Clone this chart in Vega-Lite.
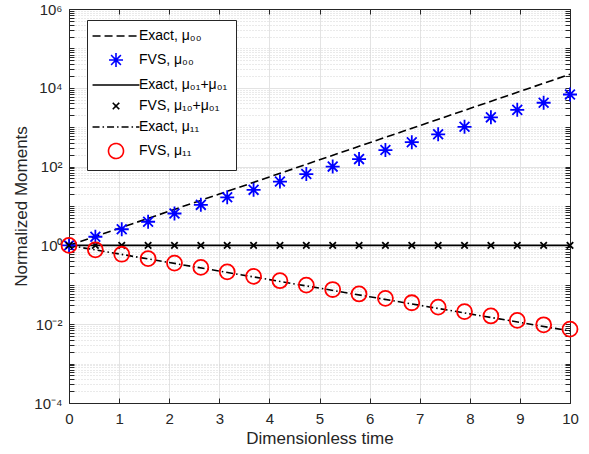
{
  "$schema": "https://vega.github.io/schema/vega-lite/v6.json",
  "width": 501,
  "height": 394,
  "autosize": {"type": "none"},
  "padding": {"left": 69, "top": 9, "right": 19, "bottom": 51},
  "background": "white",
  "config": {
    "font": "Liberation Sans",
    "view": {"stroke": "#262626", "strokeWidth": 1},
    "axis": {"labelFont": "Liberation Sans", "titleFont": "Liberation Sans", "labelColor": "#262626", "titleColor": "#262626", "titleFontWeight": "normal", "domainColor": "#262626", "tickColor": "#262626", "labelFontSize": 15, "titleFontSize": 17},
    "legend": {"labelFont": "Liberation Sans", "labelFontSize": 14, "labelColor": "#000000"}
  },
  "layer": [
    {
      "data": {"values": [
        {"t": 0, "v": 1, "series": "Exact, μ₀₀"},
        {"t": 1, "v": 2.718, "series": "Exact, μ₀₀"},
        {"t": 2, "v": 7.389, "series": "Exact, μ₀₀"},
        {"t": 3, "v": 20.09, "series": "Exact, μ₀₀"},
        {"t": 4, "v": 54.6, "series": "Exact, μ₀₀"},
        {"t": 5, "v": 148.4, "series": "Exact, μ₀₀"},
        {"t": 6, "v": 403.4, "series": "Exact, μ₀₀"},
        {"t": 7, "v": 1096.6, "series": "Exact, μ₀₀"},
        {"t": 8, "v": 2981, "series": "Exact, μ₀₀"},
        {"t": 9, "v": 8103, "series": "Exact, μ₀₀"},
        {"t": 10, "v": 22026, "series": "Exact, μ₀₀"},
        {"t": 0, "v": 1, "series": "Exact, μ₀₁+μ₀₁"},
        {"t": 10, "v": 1, "series": "Exact, μ₀₁+μ₀₁"},
        {"t": 0, "v": 1, "series": "Exact, μ₁₁"},
        {"t": 1, "v": 0.6065, "series": "Exact, μ₁₁"},
        {"t": 2, "v": 0.3679, "series": "Exact, μ₁₁"},
        {"t": 3, "v": 0.2231, "series": "Exact, μ₁₁"},
        {"t": 4, "v": 0.1353, "series": "Exact, μ₁₁"},
        {"t": 5, "v": 0.0821, "series": "Exact, μ₁₁"},
        {"t": 6, "v": 0.0498, "series": "Exact, μ₁₁"},
        {"t": 7, "v": 0.0302, "series": "Exact, μ₁₁"},
        {"t": 8, "v": 0.0183, "series": "Exact, μ₁₁"},
        {"t": 9, "v": 0.0111, "series": "Exact, μ₁₁"},
        {"t": 10, "v": 0.00674, "series": "Exact, μ₁₁"}
      ]},
      "mark": {"type": "line", "strokeWidth": 1.6, "clip": true},
      "encoding": {
        "x": {"field": "t", "type": "quantitative", "scale": {"domain": [0, 10], "nice": false},
          "axis": {"orient": "bottom", "values": [0,1,2,3,4,5,6,7,8,9,10], "labelFlush": false, "title": "Dimensionless time", "grid": true, "gridColor": "#e3e3e3", "gridWidth": 1, "tickSize": -5, "labelPadding": 13, "titlePadding": 4, "domain": true}},
        "y": {"field": "v", "type": "quantitative", "scale": {"type": "log", "domain": [0.0001, 1000000], "nice": false},
          "axis": {"orient": "left", "title": "Normalized Moments", "titlePadding": 3, "labelPadding": 12, "labelFlush": false,
            "values": [0.0001,0.0002,0.0003,0.0004,0.0005,0.0006,0.0007,0.0008,0.0009,0.001,0.002,0.003,0.004,0.005,0.006,0.007,0.008,0.009,0.01,0.02,0.03,0.04,0.05,0.06,0.07,0.08,0.09,0.1,0.2,0.3,0.4,0.5,0.6,0.7,0.8,0.9,1,2,3,4,5,6,7,8,9,10,20,30,40,50,60,70,80,90,100,200,300,400,500,600,700,800,900,1000,2000,3000,4000,5000,6000,7000,8000,9000,10000,20000,30000,40000,50000,60000,70000,80000,90000,100000,200000,300000,400000,500000,600000,700000,800000,900000,1000000],
            "labelExpr": "datum.value==1000000?'10⁶':datum.value==10000?'10⁴':datum.value==100?'10²':datum.value==1?'10⁰':datum.value==0.01?'10⁻²':datum.value==0.0001?'10⁻⁴':''",
            "grid": true,
            "gridColor": {"condition": {"test": "indexof([0.0001,0.01,1,100,10000,1000000], datum.value) >= 0", "value": "#e3e3e3"}, "value": "#d4d4d4"},
            "gridDash": {"condition": {"test": "indexof([0.0001,0.01,1,100,10000,1000000], datum.value) >= 0", "value": []}, "value": [1, 2]},
            "tickSize": -5}},
        "color": {"field": "series", "type": "nominal",
          "scale": {"domain": ["Exact, μ₀₀", "FVS, μ₀₀", "Exact, μ₀₁+μ₀₁", "FVS, μ₁₀+μ₀₁", "Exact, μ₁₁", "FVS, μ₁₁"], "range": ["#000000", "#0000ff", "#000000", "#000000", "#000000", "#ff0000"]},
          "legend": {"title": null, "orient": "none", "legendX": 18, "legendY": 11, "strokeColor": "#262626", "fillColor": "white", "padding": 8, "rowPadding": 6, "symbolSize": 196, "symbolStrokeWidth": 1.6, "symbolOffset": 13, "labelOffset": 15, "cornerRadius": 0}},
        "strokeDash": {"field": "series", "type": "nominal",
          "scale": {"domain": ["Exact, μ₀₀", "FVS, μ₀₀", "Exact, μ₀₁+μ₀₁", "FVS, μ₁₀+μ₀₁", "Exact, μ₁₁", "FVS, μ₁₁"], "range": [[8, 4], [1, 0], [1, 0], [1, 0], [7, 3, 1.5, 3], [1, 0]]},
          "legend": {"title": null}}
      }
    },
    {
      "data": {"values": [
        {"t": 0, "v": 1, "series": "FVS, μ₀₀"},
        {"t": 0.5263, "v": 1.66, "series": "FVS, μ₀₀"},
        {"t": 1.0526, "v": 2.57, "series": "FVS, μ₀₀"},
        {"t": 1.5789, "v": 3.98, "series": "FVS, μ₀₀"},
        {"t": 2.1053, "v": 6.46, "series": "FVS, μ₀₀"},
        {"t": 2.6316, "v": 10.7, "series": "FVS, μ₀₀"},
        {"t": 3.1579, "v": 16.6, "series": "FVS, μ₀₀"},
        {"t": 3.6842, "v": 25.7, "series": "FVS, μ₀₀"},
        {"t": 4.2105, "v": 41.7, "series": "FVS, μ₀₀"},
        {"t": 4.7368, "v": 64.6, "series": "FVS, μ₀₀"},
        {"t": 5.2632, "v": 100, "series": "FVS, μ₀₀"},
        {"t": 5.7895, "v": 155, "series": "FVS, μ₀₀"},
        {"t": 6.3158, "v": 263, "series": "FVS, μ₀₀"},
        {"t": 6.8421, "v": 417, "series": "FVS, μ₀₀"},
        {"t": 7.3684, "v": 661, "series": "FVS, μ₀₀"},
        {"t": 7.8947, "v": 1023, "series": "FVS, μ₀₀"},
        {"t": 8.4211, "v": 1778, "series": "FVS, μ₀₀"},
        {"t": 8.9474, "v": 2754, "series": "FVS, μ₀₀"},
        {"t": 9.4737, "v": 4169, "series": "FVS, μ₀₀"},
        {"t": 10, "v": 6761, "series": "FVS, μ₀₀"},
        {"t": 0, "v": 1, "series": "FVS, μ₁₀+μ₀₁"},
        {"t": 0.5263, "v": 1, "series": "FVS, μ₁₀+μ₀₁"},
        {"t": 1.0526, "v": 1, "series": "FVS, μ₁₀+μ₀₁"},
        {"t": 1.5789, "v": 1, "series": "FVS, μ₁₀+μ₀₁"},
        {"t": 2.1053, "v": 1, "series": "FVS, μ₁₀+μ₀₁"},
        {"t": 2.6316, "v": 1, "series": "FVS, μ₁₀+μ₀₁"},
        {"t": 3.1579, "v": 1, "series": "FVS, μ₁₀+μ₀₁"},
        {"t": 3.6842, "v": 1, "series": "FVS, μ₁₀+μ₀₁"},
        {"t": 4.2105, "v": 1, "series": "FVS, μ₁₀+μ₀₁"},
        {"t": 4.7368, "v": 1, "series": "FVS, μ₁₀+μ₀₁"},
        {"t": 5.2632, "v": 1, "series": "FVS, μ₁₀+μ₀₁"},
        {"t": 5.7895, "v": 1, "series": "FVS, μ₁₀+μ₀₁"},
        {"t": 6.3158, "v": 1, "series": "FVS, μ₁₀+μ₀₁"},
        {"t": 6.8421, "v": 1, "series": "FVS, μ₁₀+μ₀₁"},
        {"t": 7.3684, "v": 1, "series": "FVS, μ₁₀+μ₀₁"},
        {"t": 7.8947, "v": 1, "series": "FVS, μ₁₀+μ₀₁"},
        {"t": 8.4211, "v": 1, "series": "FVS, μ₁₀+μ₀₁"},
        {"t": 8.9474, "v": 1, "series": "FVS, μ₁₀+μ₀₁"},
        {"t": 9.4737, "v": 1, "series": "FVS, μ₁₀+μ₀₁"},
        {"t": 10, "v": 1, "series": "FVS, μ₁₀+μ₀₁"},
        {"t": 0, "v": 1, "series": "FVS, μ₁₁"},
        {"t": 0.5263, "v": 0.773, "series": "FVS, μ₁₁"},
        {"t": 1.0526, "v": 0.597, "series": "FVS, μ₁₁"},
        {"t": 1.5789, "v": 0.461, "series": "FVS, μ₁₁"},
        {"t": 2.1053, "v": 0.356, "series": "FVS, μ₁₁"},
        {"t": 2.6316, "v": 0.276, "series": "FVS, μ₁₁"},
        {"t": 3.1579, "v": 0.213, "series": "FVS, μ₁₁"},
        {"t": 3.6842, "v": 0.164, "series": "FVS, μ₁₁"},
        {"t": 4.2105, "v": 0.127, "series": "FVS, μ₁₁"},
        {"t": 4.7368, "v": 0.098, "series": "FVS, μ₁₁"},
        {"t": 5.2632, "v": 0.0759, "series": "FVS, μ₁₁"},
        {"t": 5.7895, "v": 0.0586, "series": "FVS, μ₁₁"},
        {"t": 6.3158, "v": 0.0453, "series": "FVS, μ₁₁"},
        {"t": 6.8421, "v": 0.035, "series": "FVS, μ₁₁"},
        {"t": 7.3684, "v": 0.0271, "series": "FVS, μ₁₁"},
        {"t": 7.8947, "v": 0.0209, "series": "FVS, μ₁₁"},
        {"t": 8.4211, "v": 0.0162, "series": "FVS, μ₁₁"},
        {"t": 8.9474, "v": 0.0125, "series": "FVS, μ₁₁"},
        {"t": 9.4737, "v": 0.00966, "series": "FVS, μ₁₁"},
        {"t": 10, "v": 0.00747, "series": "FVS, μ₁₁"}
      ]},
      "mark": {"type": "point", "filled": false, "size": 196, "strokeWidth": 1.8, "opacity": 1},
      "encoding": {
        "x": {"field": "t", "type": "quantitative", "scale": {"domain": [0, 10], "nice": false},
          "axis": {"orient": "top", "values": [0,1,2,3,4,5,6,7,8,9,10], "labels": false, "title": null, "grid": false, "tickSize": -5, "domain": true}},
        "y": {"field": "v", "type": "quantitative", "scale": {"type": "log", "domain": [0.0001, 1000000], "nice": false},
          "axis": {"orient": "right", "labels": false, "title": null, "grid": false, "tickSize": -5,
            "values": [0.0001,0.0002,0.0003,0.0004,0.0005,0.0006,0.0007,0.0008,0.0009,0.001,0.002,0.003,0.004,0.005,0.006,0.007,0.008,0.009,0.01,0.02,0.03,0.04,0.05,0.06,0.07,0.08,0.09,0.1,0.2,0.3,0.4,0.5,0.6,0.7,0.8,0.9,1,2,3,4,5,6,7,8,9,10,20,30,40,50,60,70,80,90,100,200,300,400,500,600,700,800,900,1000,2000,3000,4000,5000,6000,7000,8000,9000,10000,20000,30000,40000,50000,60000,70000,80000,90000,100000,200000,300000,400000,500000,600000,700000,800000,900000,1000000]}},
        "color": {"field": "series", "type": "nominal",
          "scale": {"domain": ["Exact, μ₀₀", "FVS, μ₀₀", "Exact, μ₀₁+μ₀₁", "FVS, μ₁₀+μ₀₁", "Exact, μ₁₁", "FVS, μ₁₁"], "range": ["#000000", "#0000ff", "#000000", "#000000", "#000000", "#ff0000"]}},
        "shape": {"field": "series", "type": "nominal",
          "scale": {"domain": ["Exact, μ₀₀", "FVS, μ₀₀", "Exact, μ₀₁+μ₀₁", "FVS, μ₁₀+μ₀₁", "Exact, μ₁₁", "FVS, μ₁₁"],
            "range": ["M-3.35,0H3.35", "M-1,0H1M0,-1V1M-0.7,-0.7L0.7,0.7M-0.7,0.7L0.7,-0.7", "M-3.35,0H3.35", "M-0.46,-0.46L0.46,0.46M-0.46,0.46L0.46,-0.46", "M-3.35,0H3.35", "M1.07,0A1.07,1.07,0,1,1,-1.07,0A1.07,1.07,0,1,1,1.07,0Z"]},
          "legend": {"title": null}}
      }
    }
  ],
  "resolve": {"axis": {"x": "independent", "y": "independent"}}
}
